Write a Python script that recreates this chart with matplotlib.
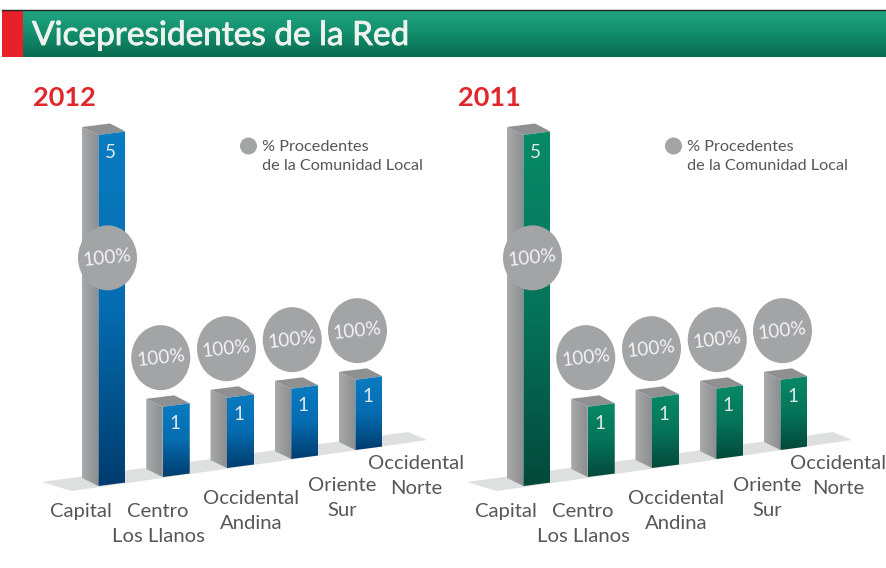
import numpy as np
import matplotlib
matplotlib.use("Agg")
import matplotlib.pyplot as plt
import matplotlib.patheffects as pe
from matplotlib.colors import LinearSegmentedColormap
from matplotlib.patches import Ellipse, Polygon, Rectangle
from matplotlib.transforms import Affine2D

title = "Vicepresidentes de la Red"
years = ["2012", "2011"]
regions = ["Capital", "Centro\nLos Llanos", "Occidental\nAndina", "Oriente\nSur", "Occidental\nNorte"]
vp_2012 = [5, 1, 1, 1, 1]
vp_2011 = [5, 1, 1, 1, 1]
local_2012 = [100, 100, 100, 100, 100]
local_2011 = [100, 100, 100, 100, 100]
legend_text = "% Procedentes\nde la Comunidad Local"

plt.rcParams["font.family"] = ["Lato", "DejaVu Sans"]

fig = plt.figure(figsize=(8.86, 5.68), dpi=100)
ax = fig.add_axes([0, 0, 1, 1])
ax.axis("off")


def grad(x0, x1, y0, y1, colors, clip=None, zorder=1, horizontal=False):
    cmap = LinearSegmentedColormap.from_list("g", colors)
    ramp = np.linspace(0, 1, 256)
    ramp = ramp.reshape(1, -1) if horizontal else ramp.reshape(-1, 1)
    im = ax.imshow(ramp, cmap=cmap, aspect="auto", extent=(x0, x1, y1, y0),
                   zorder=zorder, interpolation="bilinear")
    if clip is not None:
        im.set_clip_path(clip)
    return im


# header
grad(2, 886, 10, 57, ["#22a582", "#128d6c", "#0a6b50"])
ax.add_patch(Rectangle((2, 10), 21, 47, color="#e8202a", lw=0, zorder=2))
ax.plot([2, 886], [9.5, 9.5], color="#222222", lw=1, zorder=3)
ax.text(32, 45, title, color="#eef3ee", fontsize=24, va="baseline", ha="left", zorder=4,
        path_effects=[pe.withStroke(linewidth=0.6, foreground="#eef3ee")])


def draw_panel(dx, year, values, local, colors):
    # bar index and value -> pixels, the floor runs uphill to the right
    to_px = Affine2D(np.array([[64.25, 0, 98.5 + dx], [-9, -70.2, 486], [0, 0, 1]]))
    ax.text(33 + dx, 98, year, color="#e0282c", fontsize=19.5, fontweight="bold", va="center")

    floor = [(42 + dx, 482), (408 + dx, 432), (427 + dx, 440), (72 + dx, 491)]
    ax.add_patch(Polygon(floor, color="#dedfdf", zorder=2, lw=0))

    for i, v in enumerate(values):
        bl = to_px.transform((i, 0))
        tl = to_px.transform((i, v))
        w, rise = 27, -3.5
        dep_x, dep_y = -16.5, -8
        front = Polygon([tl, tl + (w, rise), bl + (w, rise), bl], facecolor="none", lw=0, zorder=4)
        ax.add_patch(front)
        grad(bl[0], bl[0] + w, tl[1] + rise, bl[1], colors, clip=front, zorder=4)
        side = Polygon([tl, bl, bl + (dep_x, dep_y), tl + (dep_x, dep_y)], facecolor="none", lw=0, zorder=3)
        ax.add_patch(side)
        grad(bl[0] + dep_x, bl[0], tl[1] + dep_y, bl[1], ["#a9aaab", "#8c8d8e"], clip=side, zorder=3, horizontal=True)
        top = [tl, tl + (w, rise), tl + (w + dep_x + 1, rise + dep_y), tl + (dep_x, dep_y)]
        ax.add_patch(Polygon(top, color="#8f9091", lw=0, zorder=3))
        ax.text(tl[0] + 12, tl[1] + 17, str(v), color="#dfe8ee", fontsize=13.5,
                ha="center", va="center", zorder=5)

    # bubbles, Capital sits on its bar
    levels = [3.25, 1.7, 1.7, 1.7, 1.7]
    shifts = [9, -2, -0.5, 1, 2]
    for i, pct in enumerate(local):
        cx, cy = to_px.transform((i, levels[i]))
        cx += shifts[i]
        ax.add_patch(Ellipse((cx, cy), 59, 65, color="#a3a4a6", lw=0, zorder=6))
        ax.text(cx, cy, f"{pct}%", color="#f3f3f3", fontsize=13.8, rotation=6,
                ha="center", va="center", zorder=7)

    # legend
    ax.add_patch(Ellipse((248.5 + dx, 146), 17, 17, color="#a3a4a6", lw=0, zorder=3))
    ax.text(262 + dx, 156.5, legend_text, color="#55575a", fontsize=11.7, va="center", linespacing=1.5)

    # category labels
    label_x = [81, 158, 251, 342.5, 416]
    label_y = [511, 524, 511, 498, 476]
    for name, x, y in zip(regions, label_x, label_y):
        ax.text(min(x + dx, 838), y, name, color="#55575a", fontsize=14.6, ha="center", va="center",
                linespacing=1.62, zorder=3)


draw_panel(0, years[0], vp_2012, local_2012, ["#0a7cc2", "#056cb0", "#003c6e"])
draw_panel(425, years[1], vp_2011, local_2011, ["#078a66", "#06745a", "#03493a"])
ax.set_xlim(0, 886)
ax.set_ylim(568, 0)

fig.savefig("out.png", dpi=100)
